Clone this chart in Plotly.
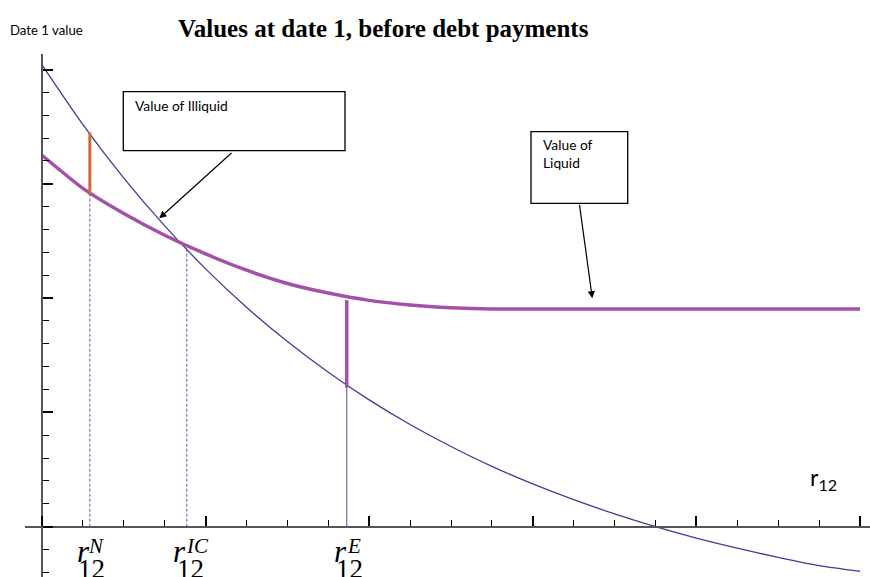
import plotly.graph_objects as go

W, H = 870, 577

# ---- data ----
r12 = [0, 1, 2, 3, 4, 5, 6, 7, 8, 9, 10, 11, 12, 13, 14, 15, 16, 17, 18, 19, 20]
illiquid_value = [20.20, 17.59, 15.25, 13.16, 11.28, 9.60, 8.10, 6.76, 5.55, 4.47,
                  3.51, 2.64, 1.87, 1.18, 0.56, 0.00, -0.50, -0.94, -1.34, -1.70, -1.95]
liquid_value = [16.25, 14.80, 13.70, 12.75, 11.93, 11.22, 10.64, 10.22, 9.90, 9.70,
                9.58, 9.52, 9.52, 9.52, 9.52, 9.52, 9.52, 9.52, 9.52, 9.52, 9.52]

r_N, r_IC, r_E = 1.17, 3.54, 7.45
liquid_at_N, illiquid_at_N = 14.51, 17.25
liquid_at_IC = 12.25
liquid_at_E, illiquid_at_E = 9.91, 6.08

marker_names = ["N", "IC", "E"]
marker_x = [r_N, r_IC, r_E]

BLUE = "rgb(61,61,153)"
PURPLE = "rgb(163,80,168)"
ORANGE = "rgb(205,105,50)"

fig = go.Figure()

fig.add_trace(go.Scatter(x=r12, y=illiquid_value, mode="lines",
                         line=dict(color=BLUE, width=1.3, shape="spline", smoothing=0.8),
                         showlegend=False, hoverinfo="skip"))
fig.add_trace(go.Scatter(x=r12, y=liquid_value, mode="lines",
                         line=dict(color=PURPLE, width=3.5, shape="spline", smoothing=0.5),
                         showlegend=False, hoverinfo="skip"))

# vertical guide lines
fig.add_trace(go.Scatter(x=[r_N, r_N], y=[0, liquid_at_N], mode="lines",
                         line=dict(color="rgb(90,90,170)", width=1, dash="3px,2px"), showlegend=False))
fig.add_trace(go.Scatter(x=[r_IC, r_IC], y=[0, liquid_at_IC], mode="lines",
                         line=dict(color="rgb(90,90,170)", width=1, dash="3px,2px"), showlegend=False))
fig.add_trace(go.Scatter(x=[r_E, r_E], y=[0, illiquid_at_E], mode="lines",
                         line=dict(color="rgb(120,120,170)", width=1.3), showlegend=False))
fig.add_trace(go.Scatter(x=[r_N, r_N], y=[liquid_at_N, illiquid_at_N], mode="lines",
                         line=dict(color=ORANGE, width=3), showlegend=False))
fig.add_trace(go.Scatter(x=[r_E, r_E], y=[illiquid_at_E, liquid_at_E], mode="lines",
                         line=dict(color=PURPLE, width=3.5), showlegend=False))

x0px, y0px = 42.0, 526.7
x_unit, y_unit = 40.9, 22.86
x_left_px, x_right_px = 25.0, 870.0
y_top_px, y_bot_px = 54.0, 577.0

xr = [(x_left_px - x0px) / x_unit, (x_right_px - x0px) / x_unit]
yr = [(y0px - y_bot_px) / y_unit, (y0px - y_top_px) / y_unit]


def px(x):
    return x / W


def py(y):
    return 1 - y / H


fig.update_layout(
    width=W, height=H,
    margin=dict(l=0, r=0, t=0, b=0),
    paper_bgcolor="white", plot_bgcolor="white",
    xaxis=dict(range=xr, domain=[px(x_left_px), px(x_right_px)], anchor="free", position=py(y0px),
               showline=True, linecolor="#555555", linewidth=1.5,
               ticks="inside", ticklen=10, tickwidth=1.5, tickcolor="black", tick0=0, dtick=4,
               showticklabels=False, showgrid=False, zeroline=False,
               minor=dict(ticks="inside", ticklen=6, tickwidth=1, tickcolor="black", tick0=0, dtick=1, showgrid=False)),
    yaxis=dict(range=yr, domain=[py(y_bot_px), py(y_top_px)], anchor="free", position=px(x0px),
               showline=True, linecolor="#555555", linewidth=1.5,
               ticks="inside", ticklen=10, tickwidth=1.5, tickcolor="black", tick0=0, dtick=5,
               showticklabels=False, showgrid=False, zeroline=False,
               minor=dict(ticks="inside", ticklen=6, tickwidth=1, tickcolor="black", tick0=0, dtick=1, showgrid=False)),
)

# annotation boxes
fig.add_shape(type="rect", xref="paper", yref="paper", x0=px(123.3), x1=px(345), y0=py(150.7), y1=py(91.7),
              line=dict(color="black", width=1.3), fillcolor="white")
fig.add_shape(type="rect", xref="paper", yref="paper", x0=px(531), x1=px(627.7), y0=py(203.3), y1=py(131.7),
              line=dict(color="black", width=1.3), fillcolor="white")

SANS = "Lato, Liberation Sans, sans-serif"
SERIF = "Liberation Serif, Times New Roman, serif"

fig.add_annotation(xref="paper", yref="paper", x=px(133), y=py(105), xanchor="left", yanchor="middle",
                   text="Value of Illiquid", showarrow=False, font=dict(family=SANS, size=13.8, color="black"))
fig.add_annotation(xref="paper", yref="paper", x=px(541), y=py(153), xanchor="left", yanchor="middle",
                   text="Value of<br>Liquid", showarrow=False, align="left",
                   font=dict(family=SANS, size=13.8, color="black"))

# arrows
fig.add_annotation(xref="paper", yref="paper", x=px(159.3), y=py(218.3), ax=233 - 159.3, ay=151.7 - 218.3,
                   text="", showarrow=True, arrowhead=2, arrowsize=1.2, arrowwidth=1.2, arrowcolor="black")
fig.add_annotation(xref="paper", yref="paper", x=px(592.3), y=py(298.3), ax=579.3 - 592.3, ay=203.3 - 298.3,
                   text="", showarrow=True, arrowhead=2, arrowsize=1.2, arrowwidth=1.2, arrowcolor="black")

# title and axis labels
fig.add_annotation(xref="paper", yref="paper", x=px(383.5), y=py(28), xanchor="center", yanchor="middle",
                   text="<b>Values at date 1, before debt payments</b>", showarrow=False,
                   font=dict(family=SERIF, size=25, color="black"))
fig.add_annotation(xref="paper", yref="paper", x=px(8), y=py(30), xanchor="left", yanchor="middle",
                   text="Date 1 value", showarrow=False, font=dict(family=SANS, size=13.2, color="black"))
fig.add_annotation(xref="paper", yref="paper", x=px(808), y=py(478), xanchor="left", yanchor="middle",
                   text="r<sub>12</sub>", showarrow=False, font=dict(family=SANS, size=23, color="black"))

# stacked r^X_12 tick labels
r_dx = [84 - 90, 179 - 186.7, 340 - 346.7]
sup_dx = [96 - 90, 197 - 186.7, 353.5 - 346.7]
sub_dx = [91.5 - 90, 190 - 186.7, 349.5 - 346.7]
for name, xv, a, b, c in zip(marker_names, marker_x, r_dx, sup_dx, sub_dx):
    fig.add_annotation(x=xv, y=0, yref="y", xref="x", xshift=a, yshift=-(552 - y0px), text="<i>r</i>",
                       showarrow=False, font=dict(family=SERIF, size=31, color="black"))
    fig.add_annotation(x=xv, y=0, yref="y", xref="x", xshift=b, yshift=-(546 - y0px), text=f"<i>{name}</i>",
                       showarrow=False, font=dict(family=SERIF, size=21, color="black"))
    fig.add_annotation(x=xv, y=0, yref="y", xref="x", xshift=c, yshift=-(569 - y0px), text="12",
                       showarrow=False, font=dict(family=SERIF, size=27, color="black"))

fig.write_html("out.html", config={"displayModeBar": False})

# remove the default page margin so the figure sits at the window's top-left corner
with open("out.html", "r", encoding="utf-8") as f:
    html = f.read()
html = html.replace("<body>", '<body style="margin:0;padding:0;overflow:hidden">', 1)
with open("out.html", "w", encoding="utf-8") as f:
    f.write(html)
